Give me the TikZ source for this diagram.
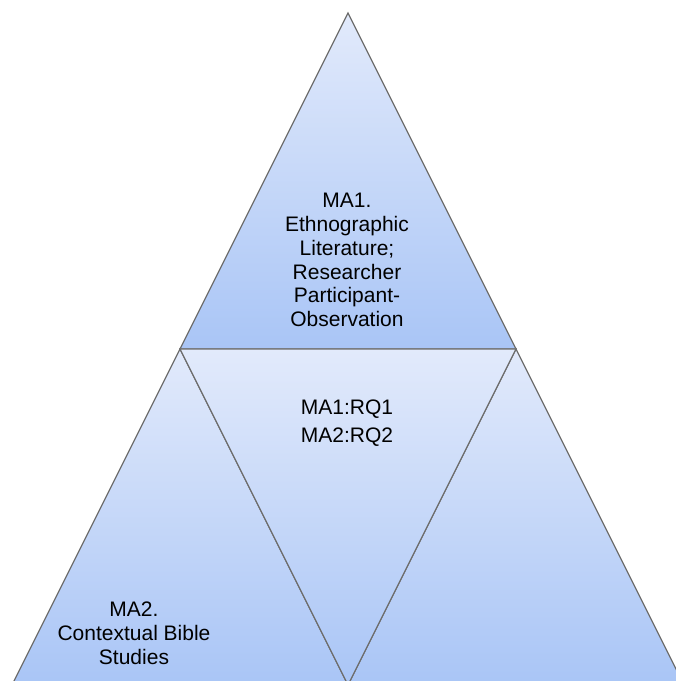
\documentclass[tikz,border=0pt]{standalone}
\usepackage{fontspec}
\setmainfont{Liberation Sans}
\definecolor{edgegray}{HTML}{6E6E6E}
\definecolor{lighttop}{HTML}{E2EAFB}
\definecolor{darkbot}{HTML}{A9C5F6}
\begin{document}
\begin{tikzpicture}[x=1pt,y=1pt,
  tri/.style={draw=edgegray, line width=1.2pt, line join=miter, top color=lighttop, bottom color=darkbot},
  lbl/.style={align=center, inner sep=0pt, text=black, font=\fontsize{21}{23.8}\selectfont}]
\useasboundingbox (0,0) rectangle (676,681);
\clip (0,0) rectangle (676,681);
\coordinate (A) at (348,668);
\coordinate (L) at (180,332);
\coordinate (R) at (516,332);
\coordinate (M) at (348,-4);
\coordinate (BL) at (12,-4);
\coordinate (BR) at (684,-4);
% top triangle
\path[tri] (A) -- (L) -- (R) -- cycle;
% left triangle
\path[tri] (L) -- (BL) -- (M) -- cycle;
% right triangle
\path[tri] (R) -- (M) -- (BR) -- cycle;
% middle inverted triangle
\path[tri] (L) -- (R) -- (M) -- cycle;
\node[lbl] (top) at (347,421) {MA1.\\Ethnographic\\Literature;\\Researcher\\Participant-\\Observation};
\node[lbl] (mid) at (347,258) {MA1:RQ1\\[4pt]MA2:RQ2};
\node[lbl] (left) at (134,48) {MA2.\\Contextual Bible\\Studies};
\end{tikzpicture}
\end{document}
